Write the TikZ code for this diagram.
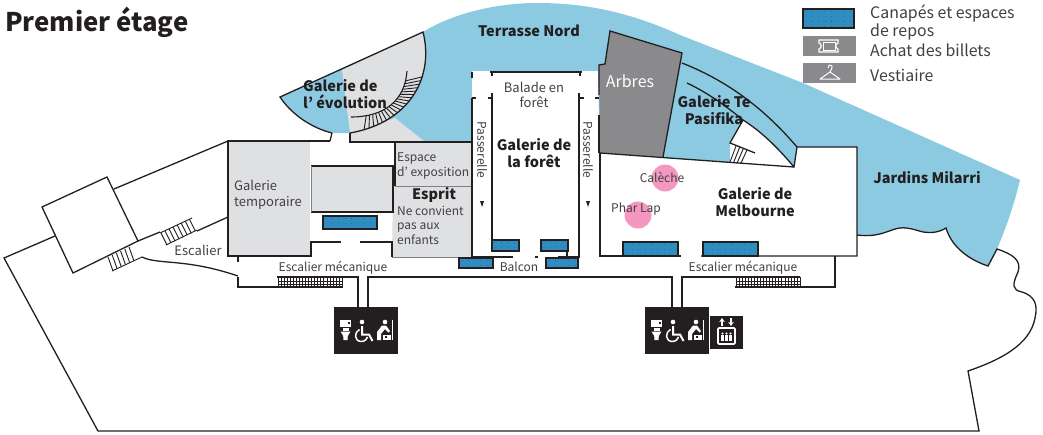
\documentclass[tikz,border=0pt]{standalone}
\usepackage{fontspec}
\setmainfont{Noto Sans CJK JP}
\usetikzlibrary{calc,arrows.meta}
\definecolor{ink}{HTML}{231F20}
\definecolor{txt}{HTML}{414042}
\definecolor{sky}{HTML}{8CCAE2}
\definecolor{pale}{HTML}{DFE0E2}
\definecolor{tree}{HTML}{8A8A8D}
\definecolor{seat}{HTML}{2F8DC0}
\definecolor{seatdot}{HTML}{17608E}
\definecolor{pink}{HTML}{F498C2}
\tikzset{
  wall/.style={draw=ink,line width=1.3pt},
  thin wall/.style={draw=ink,line width=.6pt},
  lab/.style={inner sep=0pt,text=txt,align=left,font=\fontsize{12}{14.5}\selectfont},
  labc/.style={lab,align=center},
  big/.style={inner sep=0pt,text=ink,align=center,font=\fontsize{14.5}{17}\selectfont\bfseries},
  sofa/.style={fill=seat,draw=ink,line width=1.2pt,path picture={
    \foreach \i in {0,...,12}\foreach \j in {0,1,2,3}{
      \fill[seatdot] ($(path picture bounding box.north west)+(3+\i*6.4,2.5+\j*5)$) circle (.4);}}},
  wc icons/.pic={
    \fill[ink] (0,0) rectangle (64,47);
    \fill[white] (6,13) rectangle (17,20);
    \fill[white] (8.5,21) rectangle (14.5,23.5);
    \fill[white] (6.5,24.5) -- (16.5,24.5) -- (13.8,29) -- (13.5,33) -- (9.5,33) -- (9.2,29) -- cycle;
    \fill[ink] (14,15) rectangle (15.5,16.5);
    \fill[white] (28,15) circle (2.3);
    \draw[white,line width=2pt] (28,19) -- (28,27.5) -- (35,27.5) -- (38.5,34);
    \draw[white,line width=1.5pt] (25.5,22.5) .. controls (20,25) and (20,34) .. (27,34.5) .. controls (31,34.5) and (33,32) .. (33.5,30);
    \fill[white] (51,15) circle (2.3);
    \fill[white] (43,33) -- (43,25) -- (48,18.5) -- (52,18.5) -- (56,24) -- (54.5,25.5) -- (51,22) -- (47,27) -- (47,33) -- cycle;
    \fill[white] (49,27.5) rectangle (56.5,33);
    \fill[ink] (50.5,29) rectangle (52.5,30.5);
    \draw[white,line width=.8pt] (58.5,13) -- (58.5,33);
  },
  stair rail/.style={draw=ink,line width=.9pt},
}
\begin{document}
\begin{tikzpicture}[x=1pt,y=-1pt]
\useasboundingbox (0,0) rectangle (1043,434);
\fill[white] (0,0) rectangle (1043,434);
% gardens
\fill[sky] (423,32) .. controls (455,12) and (500,3) .. (537,3) .. controls (580,3) and (625,10) .. (680,35)
  -- (803,83) -- (1020,180) .. controls (1014,205) and (1006,228) .. (997,249) -- (988,266)
  .. controls (970,260) and (952,248) .. (946,228) .. controls (938,233) and (930,233) .. (923,232)
  .. controls (915,230) and (908,227) .. (900,228) .. controls (890,229) and (880,238) .. (857,235)
  -- (857,147) -- (797,147) -- (794,167) -- (600,153) -- (598,71) -- (472,71) -- (472,142) -- (350,142) -- (350,133)
  -- (332,133) .. controls (312,128) and (292,115) .. (280,97) -- cycle;
% grey parts of the spiral gallery
\fill[pale] (342,70) -- (423,32) .. controls (434,75) and (412,122) .. (350,133) -- cycle;
\fill[pale] (350,133) -- (395,118) -- (425,142) -- (350,142) -- cycle;
% white triangle Te Pasifika
\fill[white] (743,120) .. controls (762,132) and (778,148) .. (794,167) -- (730,162) -- (730,143) -- cycle;
% rooms
\fill[pale] (228,141) rectangle (310,256);
\fill[pale] (395,142) rectangle (472,186);
\fill[pale] (393,186) -- (472,186) -- (472,257) -- (392,257) -- cycle;
\fill[pale] (311,166) rectangle (393,212);
\fill[pink] (665,178) circle (13.5);
\fill[pink] (638,215) circle (13.5);
% Arbres
\fill[tree] (610,31) -- (682,53) -- (663,157) -- (600,153) -- (599,65) -- (605,64) -- cycle;
\draw[wall] (599,95) -- (599,65) -- (605,64) -- (610,31) -- (682,53) -- (663,157);
\draw[wall] (599,115) -- (599,153);
% outer building
\draw[wall] (228,141) -- (114,189);
\draw[wall] (107,177) -- (42,207) -- (73,273) -- (138,241) -- cycle;
\draw[wall] (55,236) -- (4,258) -- (98,431) -- (979,431) -- (968,371)
  .. controls (1000,360) and (1030,345) .. (1035,318) .. controls (1038,305) and (1035,296) .. (1022,292)
  .. controls (1012,290) and (1012,285) .. (1018,272) .. controls (1022,260) and (1012,254) .. (997,249) -- (988,266)
  .. controls (970,260) and (952,248) .. (946,228) .. controls (938,233) and (930,233) .. (923,232)
  .. controls (915,230) and (908,227) .. (900,228) .. controls (890,229) and (880,238) .. (857,235);
\draw[wall] (138,241) -- (160,232);
\draw[wall] (197,231) -- (228,217);
\draw[wall] (142,257) .. controls (158,265) and (185,258) .. (238,276);
% stairs at the left
\draw[stair rail] (160,233) -- (192,218) (166,245) -- (197,230);
\foreach \t in {0,.14,...,1.01}
  \draw[stair rail] ($(161,233)!\t!(190,219)$) -- ($(167,245)!\t!(196,231)$);
\draw[stair rail] (112,271) -- (142,257);
\foreach \t in {0,.2,...,1.01}
  \draw[stair rail] ($(108,257)!\t!(129,247)$) -- ($(113,271)!\t!(134,261)$);
% temporary gallery and central walls
\draw[wall] (330,141) -- (228,141) -- (228,256) -- (311,256) -- (311,242) -- (341,242);
\draw[wall] (330,141) -- (332,133);
\draw[wall] (360,242) -- (392,242) -- (392,257);
\draw[wall] (238,256) -- (238,262);
\draw[wall] (238,277) -- (238,287) -- (343,287);
\draw[wall] (277,277) -- (358,277) -- (358,307);
\draw[wall] (368,307) -- (368,277) -- (672,277) -- (672,307);
\draw[wall] (682,307) -- (682,277) -- (800,277);
\draw[wall] (835,256) -- (835,287) -- (735,287);
% escalators
\foreach \a/\b in {278/342,736/800}{
  \draw[thin wall] (\a,281) -- (\b,281) (\a,284) -- (\b,284);
  \foreach \x in {0,...,21} \draw[draw=ink,line width=.5pt] ({\a+\x*(\b-\a)/21},277) -- ({\a+\x*(\b-\a)/21},287);
}
% centre room
\draw[wall] (311,166) -- (393,166) -- (393,212) -- (311,212);
\draw[draw=gray,line width=.8pt] (311,166) -- (311,212);
% espace, esprit
\draw[wall] (350,133) -- (350,142) -- (472,142);
\draw[wall] (395,142) -- (395,186);
\draw[draw=gray,line width=.8pt] (395,186) -- (472,186);
\draw[draw=gray,line width=.8pt] (392,257) -- (472,257);
% spiral gallery outline and stairs
\draw[wall] (332,133) .. controls (312,128) and (292,115) .. (280,97) -- (423,32) .. controls (434,75) and (412,122) .. (350,133);
\draw[stair rail,line width=1.1pt] (407,71) .. controls (405,100) and (385,117) .. (351,117);
\foreach \i in {0,...,19}{
  \pgfmathsetmacro\s{.12+\i*.72/19}
  \pgfmathsetmacro\u{.92-(19-\i)*.57/19}
  \pgfmathsetmacro\ss{1-\s}
  \pgfmathsetmacro\uu{1-\u}
  \pgfmathsetmacro\sa{\ss*\ss*\ss}\pgfmathsetmacro\sb{3*\ss*\ss*\s}\pgfmathsetmacro\sc{3*\ss*\s*\s}\pgfmathsetmacro\sd{\s*\s*\s}
  \pgfmathsetmacro\ua{\uu*\uu*\uu}\pgfmathsetmacro\ub{3*\uu*\uu*\u}\pgfmathsetmacro\uc{3*\uu*\u*\u}\pgfmathsetmacro\ud{\u*\u*\u}
  \pgfmathsetmacro\ix{\sa*407+\sb*405+\sc*385+\sd*351}
  \pgfmathsetmacro\iy{\sa*71+\sb*100+\sc*117+\sd*117}
  \pgfmathsetmacro\ox{\ua*423+\ub*434+\uc*412+\ud*350}
  \pgfmathsetmacro\oy{\ua*32+\ub*75+\uc*122+\ud*133}
  \draw[stair rail] (\ix,\iy) -- (\ox,\oy);
}
% forest gallery
\fill[white] (472,71) rectangle (598,142);
\draw[wall] (472,98) -- (472,257) -- (513,257);
\draw[wall] (472,72) -- (472,78);
\draw[wall] (490,72) -- (582,72);
\draw[wall] (492,72) -- (492,76) (580,72) -- (580,76);
\draw[wall] (472,98) -- (476,98) (488,98) -- (492,98) (580,98) -- (584,98) (595,98) -- (599,98);
\draw[wall] (492,93) -- (492,240);
\draw[wall] (579,93) -- (579,257) -- (558,257);
\draw[wall] (535,257) -- (538,257);
\draw[wall] (567,250) -- (567,257);
% Melbourne
\draw[wall] (600,153) -- (794,167) -- (797,147) -- (857,147) -- (857,256) -- (701,256);
\draw[wall] (681,256) -- (600,256) -- (600,153);
\draw[wall] (682,63) .. controls (725,80) and (762,106) .. (797,147);
\draw[wall] (687,83) .. controls (708,93) and (726,106) .. (743,120) .. controls (762,132) and (778,148) .. (794,167);
\draw[wall] (743,120) -- (730,143) -- (755,153);
\foreach \t in {0,.33,.66,1}
  \draw[stair rail] ($(736,146)!\t!(747,150)$) -- ($(730,162)!\t!(741,163)$);
% seats
\path[sofa] (323,216) rectangle (377,229);
\path[sofa] (492,240) rectangle (519,251);
\path[sofa] (541,240) rectangle (568,251);
\path[sofa] (459,258) rectangle (493,268);
\path[sofa] (546,258) rectangle (578,268);
\path[sofa] (623,242) rectangle (678,256);
\path[sofa] (703,242) rectangle (758,256);
% service blocks
\pic at (334,307) {wc icons};
\pic at (645,307) {wc icons};
\begin{scope}[shift={(710,316)}]
  \fill[ink] (0,0) rectangle (33,33);
  \draw[white,line width=1.6pt,rounded corners=1pt] (8,12) rectangle (25,28);
  \draw[white,line width=1.2pt,-{Stealth[length=4pt,width=5.5pt]}] (12,10) -- (12,2);
  \draw[white,line width=1.2pt,-{Stealth[length=4pt,width=5.5pt]}] (21,2) -- (21,10);
  \foreach \x in {12.5,16.5,20.5}{\fill[white] (\x,17.5) circle (1.2); \fill[white] (\x-1.2,19) rectangle (\x+1.2,24.5);}
\end{scope}
% legend
\path[sofa] (803,9) rectangle (854,28);
\fill[tree] (803,36) rectangle (856,56);
\fill[tree] (803,63) rectangle (856,83);
\draw[white,line width=1.2pt] (819,40) -- (838,40) -- (838,43) .. controls (835,44) and (835,48) .. (838,49) -- (838,52) -- (819,52) -- (819,49) .. controls (822,48) and (822,44) .. (819,43) -- cycle;
\draw[white,line width=1pt] (823,42) rectangle (835,50);
\draw[white,line width=1pt,line join=round] (828,68) .. controls (828,64) and (833,64) .. (832,68) .. controls (832,70) and (830,70) .. (830,72) -- (840,79) -- (820,79) -- (830,72);
% labels
\node[inner sep=0pt,anchor=west,text=ink,font=\fontsize{25.7}{28}\selectfont\bfseries] (title) at (5,22) {Premier étage};
\node[big] (terrasse) at (529,31) {Terrasse Nord};
\node[big,align=left,anchor=west] (evol) at (303,94) {Galerie de\\l’ évolution};
\node[lab,font=\fontsize{13}{16}\selectfont,anchor=west] (temp) at (234,195) {Galerie\\temporaire};
\node[labc,font=\fontsize{13}{16}\selectfont] (esc) at (198,250) {Escalier};
\node[lab,anchor=west] (espace) at (397,166) {Espace\\d’ exposition};
\node[big] (esprit) at (434,195) {Esprit};
\node[lab,anchor=west] (enfants) at (397,225) {Ne convient\\pas aux\\enfants};
\node[labc,font=\fontsize{13}{14.5}\selectfont] (balade) at (534,95) {Balade en\\forêt};
\node[big] (foret) at (534,153) {Galerie de\\la forêt};
\node[lab,rotate=-90] (pass1) at (482,150) {Passerelle};
\node[lab,rotate=-90] (pass2) at (588,150) {Passerelle};
\fill[ink] (480,201) -- (484,201) -- (482,207) -- cycle;
\fill[ink] (586,201) -- (590,201) -- (588,207) -- cycle;
\node[labc] (balcon) at (519,267) {Balcon};
\node[labc] (mec1) at (333,268) {Escalier mécanique};
\node[labc] (mec2) at (743,268) {Escalier mécanique};
\node[inner sep=0pt,text=white,font=\fontsize{16}{18}\selectfont] (arbres) at (630,81) {Arbres};
\node[big] (pasifika) at (714,110) {Galerie Te\\Pasifika};
\node[labc] (caleche) at (662,177) {Calèche};
\node[labc] (pharlap) at (636,209) {Phar Lap};
\node[big] (melb) at (755,202) {Galerie de\\Melbourne};
\node[big] (milarri) at (927,178) {Jardins Milarri};
\node[lab,font=\fontsize{15.9}{18}\selectfont,anchor=west] (leg1) at (870,22) {Canapés et espaces\\de repos};
\node[lab,font=\fontsize{15.9}{18}\selectfont,anchor=west] (leg2) at (870,50) {Achat des billets};
\node[lab,font=\fontsize{15.9}{18}\selectfont,anchor=west] (leg3) at (870,75) {Vestiaire};
\end{tikzpicture}
\end{document}
